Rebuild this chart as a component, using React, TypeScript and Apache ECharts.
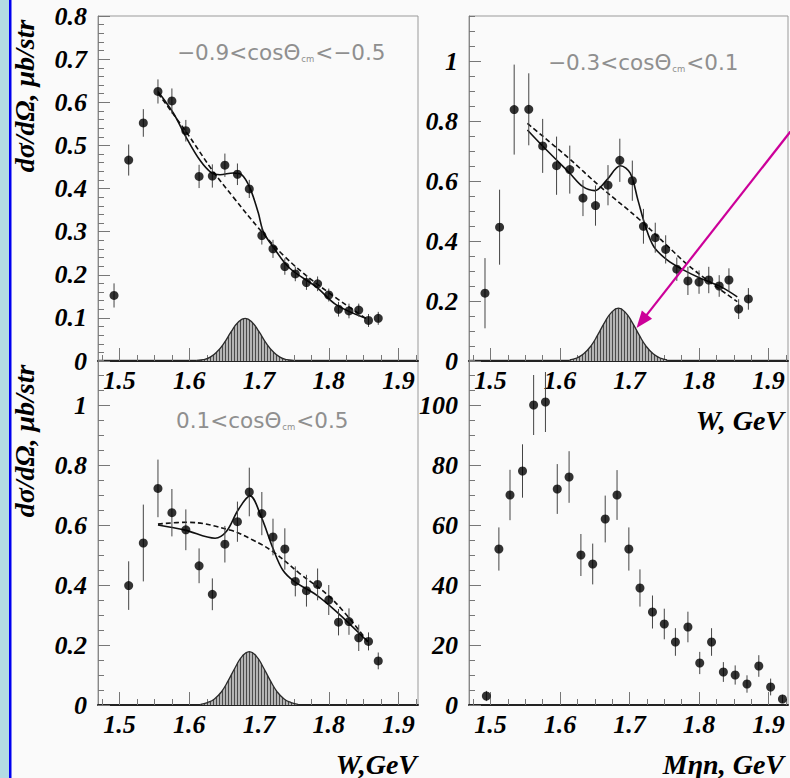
import React, { useEffect, useRef } from 'react';
import * as echarts from 'echarts';

// ---------- data ----------
const W_BINS = [1.492, 1.513, 1.534, 1.555, 1.575, 1.595, 1.614, 1.633, 1.651, 1.669, 1.686, 1.704, 1.72, 1.737, 1.752, 1.768, 1.784, 1.8, 1.814, 1.829, 1.843, 1.857, 1.871];

// panel A: -0.9<cos<-0.5
const A_VAL = [0.152, 0.466, 0.552, 0.625, 0.603, 0.534, 0.428, 0.429, 0.454, 0.433, 0.399, 0.291, 0.26, 0.219, 0.202, 0.182, 0.179, 0.153, 0.12, 0.116, 0.118, 0.094, 0.099];
const A_ERR = [0.028, 0.036, 0.032, 0.028, 0.029, 0.025, 0.027, 0.027, 0.027, 0.025, 0.021, 0.021, 0.021, 0.019, 0.017, 0.017, 0.017, 0.015, 0.017, 0.017, 0.015, 0.015, 0.015];
const A_FIT = [[1.555, 0.625], [1.577, 0.575], [1.596, 0.517], [1.615, 0.466], [1.632, 0.436], [1.644, 0.432], [1.663, 0.436], [1.675, 0.432], [1.687, 0.401], [1.699, 0.343], [1.706, 0.3], [1.72, 0.265], [1.744, 0.215], [1.782, 0.172], [1.811, 0.13], [1.853, 0.099]];
const A_BKG = [[1.555, 0.621], [1.596, 0.53], [1.634, 0.44], [1.663, 0.38], [1.701, 0.305], [1.735, 0.245], [1.782, 0.18], [1.853, 0.099]];
const A_PEAK = [[1.61, 0.001], [1.62, 0.003], [1.63, 0.009], [1.64, 0.022], [1.65, 0.042], [1.66, 0.068], [1.67, 0.09], [1.68, 0.099], [1.69, 0.09], [1.7, 0.068], [1.71, 0.042], [1.72, 0.022], [1.73, 0.009], [1.74, 0.003], [1.75, 0.001]];

// panel B: -0.3<cos<0.1
const B_VAL = [0.226, 0.446, 0.838, 0.839, 0.717, 0.651, 0.638, 0.543, 0.518, 0.586, 0.669, 0.601, 0.449, 0.411, 0.372, 0.306, 0.267, 0.263, 0.27, 0.25, 0.27, 0.173, 0.207];
const B_ERR = [0.117, 0.125, 0.15, 0.12, 0.09, 0.097, 0.08, 0.06, 0.067, 0.067, 0.072, 0.067, 0.058, 0.05, 0.047, 0.039, 0.047, 0.039, 0.044, 0.036, 0.039, 0.033, 0.036];
const B_FIT = [[1.553, 0.77], [1.576, 0.714], [1.595, 0.67], [1.614, 0.626], [1.633, 0.581], [1.65, 0.568], [1.667, 0.603], [1.687, 0.651], [1.701, 0.626], [1.712, 0.537], [1.723, 0.448], [1.735, 0.381], [1.754, 0.337], [1.778, 0.303], [1.802, 0.276], [1.831, 0.248], [1.855, 0.214]];
const B_BKG = [[1.553, 0.792], [1.61, 0.681], [1.658, 0.581], [1.715, 0.47], [1.754, 0.385], [1.783, 0.322], [1.82, 0.256], [1.855, 0.198]];
const B_PEAK = [[1.614, 0.004], [1.624, 0.01], [1.634, 0.024], [1.644, 0.049], [1.654, 0.086], [1.664, 0.128], [1.674, 0.162], [1.684, 0.176], [1.694, 0.162], [1.704, 0.128], [1.714, 0.086], [1.724, 0.049], [1.734, 0.024], [1.744, 0.01], [1.754, 0.004]];

// panel C: 0.1<cos<0.5 (bins start at the second W bin)
const C_VAL = [0.398, 0.54, 0.722, 0.641, 0.584, 0.464, 0.369, 0.536, 0.611, 0.71, 0.638, 0.56, 0.52, 0.412, 0.381, 0.402, 0.35, 0.276, 0.278, 0.224, 0.212, 0.147];
const C_ERR = [0.081, 0.128, 0.096, 0.079, 0.068, 0.058, 0.053, 0.061, 0.067, 0.081, 0.072, 0.061, 0.069, 0.05, 0.053, 0.053, 0.05, 0.044, 0.044, 0.044, 0.03, 0.028];
const C_FIT = [[1.555, 0.6], [1.594, 0.583], [1.637, 0.556], [1.653, 0.578], [1.67, 0.65], [1.687, 0.697], [1.703, 0.628], [1.72, 0.522], [1.734, 0.45], [1.751, 0.411], [1.782, 0.367], [1.811, 0.311], [1.856, 0.211]];
const C_BKG = [[1.555, 0.603], [1.596, 0.609], [1.658, 0.583], [1.691, 0.55], [1.72, 0.511], [1.758, 0.439], [1.806, 0.35], [1.856, 0.211]];
const C_PEAK = [[1.616, 0.002], [1.626, 0.008], [1.636, 0.02], [1.646, 0.044], [1.656, 0.082], [1.666, 0.126], [1.676, 0.163], [1.686, 0.178], [1.696, 0.163], [1.706, 0.126], [1.716, 0.082], [1.726, 0.044], [1.736, 0.02], [1.746, 0.008], [1.756, 0.002]];

// panel D: M(eta n) counts
const M_BINS = [1.494, 1.512, 1.528, 1.546, 1.562, 1.579, 1.596, 1.613, 1.63, 1.647, 1.665, 1.682, 1.699, 1.715, 1.733, 1.75, 1.766, 1.784, 1.801, 1.818, 1.835, 1.852, 1.869, 1.886, 1.903, 1.92];
const D_VAL = [3, 52, 70, 78, 100, 101, 72, 76, 50, 47, 62, 70, 52, 39, 31, 27, 21, 26, 14, 21, 11, 10, 7, 13, 6, 2];
const D_ERR = [1.7, 7.2, 8.4, 8.9, 10, 10, 8.3, 8.6, 7, 6.8, 7.8, 8.3, 7.2, 6.2, 5.5, 5.1, 4.6, 5.1, 3.7, 4.6, 3.3, 3.2, 2.9, 3.6, 2.8, 1.4];

// axes / ticks
const X_MIN = 1.469;
const X_MAX = 1.928;
const X_MAJOR = [1.5, 1.6, 1.7, 1.8, 1.9];
const X_MINOR = [1.475, 1.525, 1.55, 1.575, 1.625, 1.65, 1.675, 1.725, 1.75, 1.775, 1.825, 1.85, 1.875, 1.925];
const YA_MAJOR = [0, 0.1, 0.2, 0.3, 0.4, 0.5, 0.6, 0.7, 0.8];
const YB_MAJOR = [0, 0.2, 0.4, 0.6, 0.8, 1];
const YD_MAJOR = [0, 20, 40, 60, 80, 100];

const LABELS = ['\u22120.9<cos\u0398', 'cm', '<\u22120.5', '\u22120.3<cos\u0398', 'cm', '<0.1', '0.1<cos\u0398', 'cm', '<0.5'];
const Y_TITLE = 'd\u03c3/d\u03a9, \u03bcb/str';

const ARROW_TAIL = [1.935, 0.775];
const ARROW_TIP = [1.71, 0.11];

// ---------- helpers ----------
const SERIF = "'Liberation Serif', 'Times New Roman', serif";
const tickFont = { fontFamily: SERIF, fontWeight: 'bold' as const, fontStyle: 'italic' as const, fontSize: 26, color: '#000' };

function minorTicks(step: number, max: number, majorStep: number) {
  const out: number[] = [];
  for (let i = 1; i * step <= max + 1e-9; i++) {
    const v = +(i * step).toFixed(6);
    const r = v / majorStep;
    if (Math.abs(r - Math.round(r)) > 1e-6) out.push(v);
  }
  return out;
}

const GRIDS = [
  { left: 98, top: 16, width: 320, height: 345 },
  { left: 469, top: 16, width: 319, height: 345 },
  { left: 98, top: 360, width: 320, height: 345 },
  { left: 469, top: 360, width: 319, height: 345 },
];

function errRender(params: any, api: any) {
  const x = api.value(0);
  const p1 = api.coord([x, api.value(1)]);
  const p2 = api.coord([x, api.value(2)]);
  return {
    type: 'line',
    shape: { x1: p1[0], y1: p1[1], x2: p2[0], y2: p2[1] },
    style: { stroke: '#444', lineWidth: 1 },
  };
}

export default function App() {
  const ref = useRef<HTMLDivElement>(null);
  useEffect(() => {
    const chart = echarts.init(ref.current!, null, { renderer: 'svg', width: 790, height: 778 });

    const cv = document.createElement('canvas');
    cv.width = 3;
    cv.height = 3;
    const ctx = cv.getContext('2d')!;
    ctx.fillStyle = '#b4b4b4';
    ctx.fillRect(0, 0, 3, 3);
    ctx.fillStyle = '#4a4a4a';
    ctx.fillRect(0, 0, 1, 3);
    const hatch: any = { image: cv.toDataURL(), repeat: 'repeat', imageWidth: 3, imageHeight: 3 };

    const yCfg = [
      { max: 0.8, major: YA_MAJOR, minor: minorTicks(0.02, 0.8, 0.1) },
      { max: 1.15, major: YB_MAJOR, minor: minorTicks(0.05, 1.15, 0.2) },
      { max: 1.15, major: YB_MAJOR, minor: minorTicks(0.05, 1.15, 0.2) },
      { max: 115, major: YD_MAJOR, minor: minorTicks(5, 115, 20) },
    ];

    const xAxis: any[] = [];
    const yAxis: any[] = [];
    GRIDS.forEach((_, g) => {
      xAxis.push({
        type: 'value', gridIndex: g, min: X_MIN, max: X_MAX, position: 'bottom',
        axisLine: { show: true, onZero: false, lineStyle: { color: '#222', width: 2 } },
        axisTick: { show: true, inside: true, length: 13, customValues: X_MAJOR, lineStyle: { color: '#777', width: 1 } },
        axisLabel: { show: true, customValues: X_MAJOR, margin: 6, formatter: (v: number) => v.toFixed(1), ...tickFont },
        splitLine: { show: false },
      });
      xAxis.push({
        type: 'value', gridIndex: g, min: X_MIN, max: X_MAX, position: 'bottom',
        axisLine: { show: false, onZero: false },
        axisTick: { show: true, inside: true, length: 6, customValues: X_MINOR, lineStyle: { color: '#777', width: 1 } },
        axisLabel: { show: false },
        splitLine: { show: false },
      });
      const c = yCfg[g];
      yAxis.push({
        type: 'value', gridIndex: g, min: 0, max: c.max, position: 'left',
        axisLine: { show: true, onZero: false, lineStyle: { color: '#888', width: 1 } },
        axisTick: { show: true, inside: true, length: 12, customValues: c.major, lineStyle: { color: '#777', width: 1 } },
        axisLabel: { show: true, customValues: c.major, margin: 11, ...tickFont },
        splitLine: { show: false },
      });
      yAxis.push({
        type: 'value', gridIndex: g, min: 0, max: c.max, position: 'left',
        axisLine: { show: false, onZero: false },
        axisTick: { show: true, inside: true, length: 6, customValues: c.minor, lineStyle: { color: '#777', width: 1 } },
        axisLabel: { show: false },
        splitLine: { show: false },
      });
    });

    const series: any[] = [];
    const addPanel = (g: number, xs: number[], vals: number[], errs: number[], fit?: number[][], bkg?: number[][], peak?: number[][]) => {
      const ax = { xAxisIndex: 2 * g, yAxisIndex: 2 * g };
      if (peak) {
        series.push({
          type: 'line', ...ax, data: peak, smooth: true, showSymbol: false, silent: true, z: 1,
          lineStyle: { color: '#2a2a2a', width: 1.3 }, areaStyle: { color: hatch, opacity: 1 },
        });
      }
      if (bkg) {
        series.push({
          type: 'line', ...ax, data: bkg, smooth: 0.4, showSymbol: false, silent: true, z: 2,
          lineStyle: { color: '#111', width: 1.6, type: [5, 3] },
        });
      }
      if (fit) {
        series.push({
          type: 'line', ...ax, data: fit, smooth: 0.35, showSymbol: false, silent: true, z: 2,
          lineStyle: { color: '#111', width: 1.6 },
        });
      }
      series.push({
        type: 'custom', ...ax, renderItem: errRender, silent: true, z: 3,
        data: xs.map((x, i) => [x, vals[i] - errs[i], vals[i] + errs[i]]),
      });
      series.push({
        type: 'scatter', ...ax, symbol: 'circle', symbolSize: 9, silent: true, z: 4,
        itemStyle: { color: '#000' },
        data: xs.map((x, i) => [x, vals[i]]),
      });
    };
    addPanel(0, W_BINS, A_VAL, A_ERR, A_FIT, A_BKG, A_PEAK);
    addPanel(1, W_BINS, B_VAL, B_ERR, B_FIT, B_BKG, B_PEAK);
    addPanel(2, W_BINS.slice(1), C_VAL, C_ERR, C_FIT, C_BKG, C_PEAK);
    addPanel(3, M_BINS, D_VAL, D_ERR);

    const annStyle = {
      rich: {
        a: { fontFamily: "'DejaVu Sans', sans-serif", fontSize: 21.5, fill: '#8f8f8f' },
        s: { fontFamily: "'DejaVu Sans', sans-serif", fontSize: 8.5, fill: '#8f8f8f', verticalAlign: 'bottom', padding: [10, 1, 0, 1] },
      },
      verticalAlign: 'middle', align: 'left',
    };
    const ann = (id: string, x: number, y: number, k: number) => ({
      type: 'text', id, x, y, z: 10,
      style: { text: `{a|${LABELS[k]}}{s|${LABELS[k + 1]}}{a|${LABELS[k + 2]}}`, ...annStyle },
    });
    const titleFont = { fontFamily: SERIF, fontWeight: 'bold', fontStyle: 'italic', fontSize: 28, fill: '#000' };

    const graphic: any[] = [
      { type: 'rect', id: 'strip', shape: { x: 0, y: 0, width: 9, height: 778 }, style: { fill: '#b2dce3' }, z: 0 },
      { type: 'rect', id: 'stripLine', shape: { x: 9, y: 0, width: 2.5, height: 778 }, style: { fill: '#0000f0' }, z: 0 },
      ann('ann1', 177, 52, 0),
      ann('ann2', 548, 62, 3),
      ann('ann3', 176, 420, 6),
      { type: 'text', id: 'yt1', x: 24, y: 96, rotation: Math.PI / 2, z: 10, style: { text: Y_TITLE, ...titleFont, align: 'center', verticalAlign: 'middle' } },
      { type: 'text', id: 'yt2', x: 24, y: 441, rotation: Math.PI / 2, z: 10, style: { text: Y_TITLE, ...titleFont, align: 'center', verticalAlign: 'middle' } },
      { type: 'text', id: 'xt2', x: 784, y: 420, z: 10, style: { text: 'W, GeV', ...titleFont, align: 'right', verticalAlign: 'middle' } },
      { type: 'text', id: 'xt3', x: 417, y: 764, z: 10, style: { text: 'W,GeV', ...titleFont, align: 'right', verticalAlign: 'middle' } },
      { type: 'text', id: 'xt4', x: 784, y: 764, z: 10, style: { text: 'M\u03b7n, GeV', ...titleFont, align: 'right', verticalAlign: 'middle' } },
    ];

    chart.setOption({
      animation: false,
      backgroundColor: '#fafafa',
      grid: GRIDS.map((g) => ({ ...g, show: true, borderColor: '#9a9a9a', borderWidth: 1, backgroundColor: 'transparent', containLabel: false, outerBoundsMode: 'none' })),
      xAxis,
      yAxis,
      series,
      graphic,
    });

    const tail = chart.convertToPixel({ xAxisIndex: 2, yAxisIndex: 2 } as any, ARROW_TAIL) as unknown as number[];
    const tip = chart.convertToPixel({ xAxisIndex: 2, yAxisIndex: 2 } as any, ARROW_TIP) as unknown as number[];
    if (tail && tip) {
      const dx = tip[0] - tail[0];
      const dy = tip[1] - tail[1];
      const len = Math.hypot(dx, dy);
      const ux = dx / len;
      const uy = dy / len;
      const L = 17;
      const hw = 6.5;
      const bx = tip[0] - ux * L;
      const by = tip[1] - uy * L;
      chart.setOption({
        graphic: [
          { type: 'line', id: 'arrowLine', z: 20, shape: { x1: tail[0], y1: tail[1], x2: bx + ux * 2, y2: by + uy * 2 }, style: { stroke: '#cc0099', lineWidth: 2.2 } },
          { type: 'polygon', id: 'arrowHead', z: 20, shape: { points: [[tip[0], tip[1]], [bx - uy * hw, by + ux * hw], [bx + uy * hw, by - ux * hw]] }, style: { fill: '#cc0099' } },
        ],
      });
    }

    return () => chart.dispose();
  }, []);

  return (
    <div style={{ position: 'absolute', left: 0, top: 0, width: 790, height: 778 }}>
      <div ref={ref} style={{ width: 790, height: 778 }} />
    </div>
  );
}
